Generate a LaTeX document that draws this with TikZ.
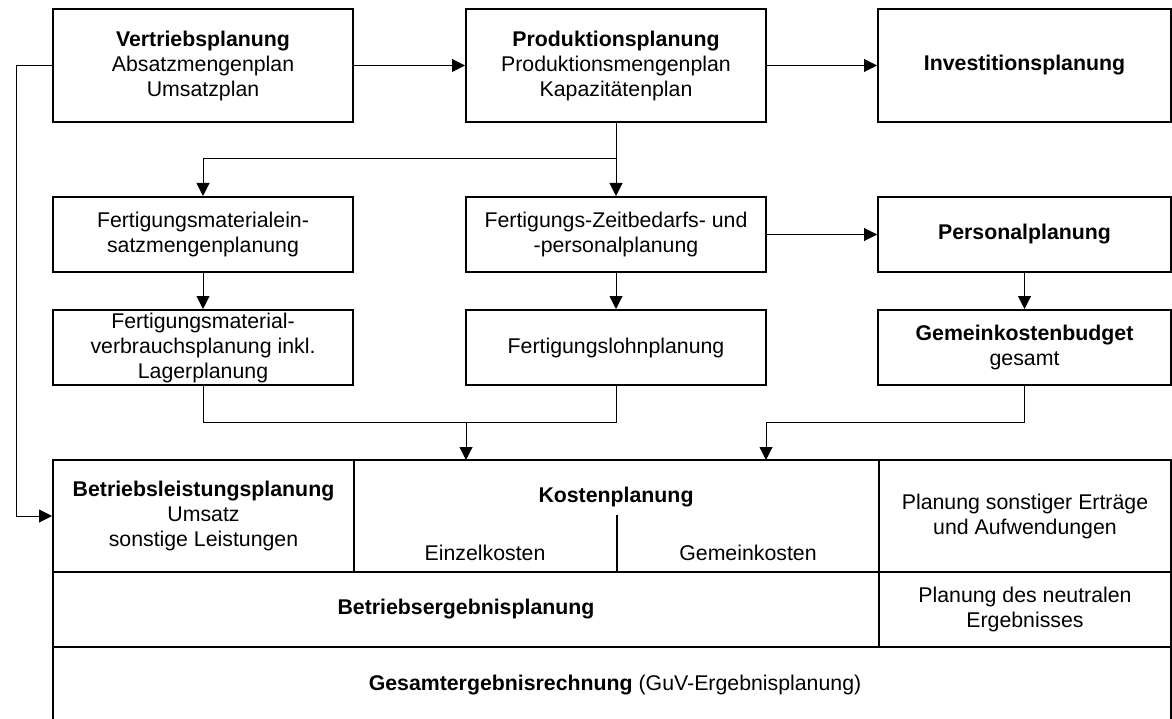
\documentclass[tikz,border=0pt]{standalone}
\usepackage{fontspec}
\setmainfont{Liberation Sans}
\usetikzlibrary{arrows.meta}
\begin{document}
\begin{tikzpicture}[x=1pt,y=-1pt,
  every node/.style={font=\fontsize{21.3}{25}\selectfont, align=center, inner sep=0pt},
  box/.style={draw, line width=2pt, minimum width=300pt, minimum height=113pt},
  midbox/.style={draw, line width=2pt, minimum width=300pt, minimum height=75pt},
  cell/.style={draw, line width=2pt},
  link/.style={line width=1pt},
  arr/.style={link, -{Triangle[length=13pt,width=13pt]}}]
\useasboundingbox (0,0) rectangle (1172,719);

% upper planning chain
\node[box] (V) at (203,65.5) {\textbf{Vertriebsplanung}\\Absatzmengenplan\\Umsatzplan};
\node[box] (P) at (616,65.5) {\textbf{Produktionsplanung}\\Produktionsmengenplan\\Kapazitätenplan};
\node[box, minimum width=293pt] (I) at (1024.5,65.5) {\textbf{Investitionsplanung}};

\node[midbox] (FM1) at (203,234.5) {Fertigungsmaterialein-\\satzmengenplanung};
\node[midbox] (FZ) at (616,234.5) {Fertigungs-Zeitbedarfs- und\\-personalplanung};
\node[midbox, minimum width=293pt] (PP) at (1024.5,234.5) {\textbf{Personalplanung}};

\node[midbox] (FM2) at (203,347.5) {Fertigungsmaterial-\\verbrauchsplanung inkl.\\Lagerplanung};
\node[midbox] (FL) at (616,347.5) {Fertigungslohnplanung};
\node[midbox, minimum width=293pt] (GK) at (1024.5,347.5) {\textbf{Gemeinkostenbudget}\\gesamt};

% result block
\node[cell, minimum width=301pt, minimum height=112pt] (BL) at (203.5,516)
  {\textbf{Betriebsleistungsplanung}\\Umsatz\\sonstige Leistungen};
\node[cell, minimum width=525pt, minimum height=112pt] (KP) at (616.5,516) {};
\node (KPt) at (616,497) {\textbf{Kostenplanung}};
\node (EK) at (485,553) {Einzelkosten};
\node (GKo) at (748,553) {Gemeinkosten};
\coordinate (kdiv) at (616.5,515);
\draw[cell] (kdiv) -- (kdiv |- KP.south);
\node[cell, minimum width=292pt, minimum height=112pt] (PE) at (1025,516)
  {Planung sonstiger Erträge\\und Aufwendungen};
\node[cell, minimum width=826pt, minimum height=75pt] (BE) at (466,609.5)
  {\textbf{Betriebsergebnisplanung}};
\node[cell, minimum width=292pt, minimum height=75pt] (PN) at (1025,609.5)
  {Planung des neutralen\\Ergebnisses};
\node[cell, minimum width=1118pt, minimum height=86pt] (GE) at (612,690) {};
\node (GEt) at (615,685) {\textbf{Gesamtergebnisrechnung} (GuV-Ergebnisplanung)};

% connectors
\coordinate (fb) at (16,0);
\coordinate (j1) at (616,159);
\coordinate (m1) at (466,422);
\coordinate (m2) at (766,422);
\coordinate (k1) at (466,460);
\coordinate (k2) at (766,460);

\draw[arr] (V.east) -- (P.west);
\draw[arr] (P.east) -- (I.west);
\draw[arr] (V.west) -- (V.west -| fb) |- (BL.west);
\draw[arr] (P.south) -- (FZ.north);
\draw[arr] (j1) -| (FM1.north);
\draw[arr] (FZ.east) -- (PP.west);
\draw[arr] (FM1.south) -- (FM2.north);
\draw[arr] (FZ.south) -- (FL.north);
\draw[arr] (PP.south) -- (GK.north);
\draw[link] (FM2.south) |- (m1);
\draw[link] (FL.south) |- (m1);
\draw[arr] (m1) -- (k1);
\draw[link] (GK.south) |- (m2);
\draw[arr] (m2) -- (k2);
\end{tikzpicture}
\end{document}
